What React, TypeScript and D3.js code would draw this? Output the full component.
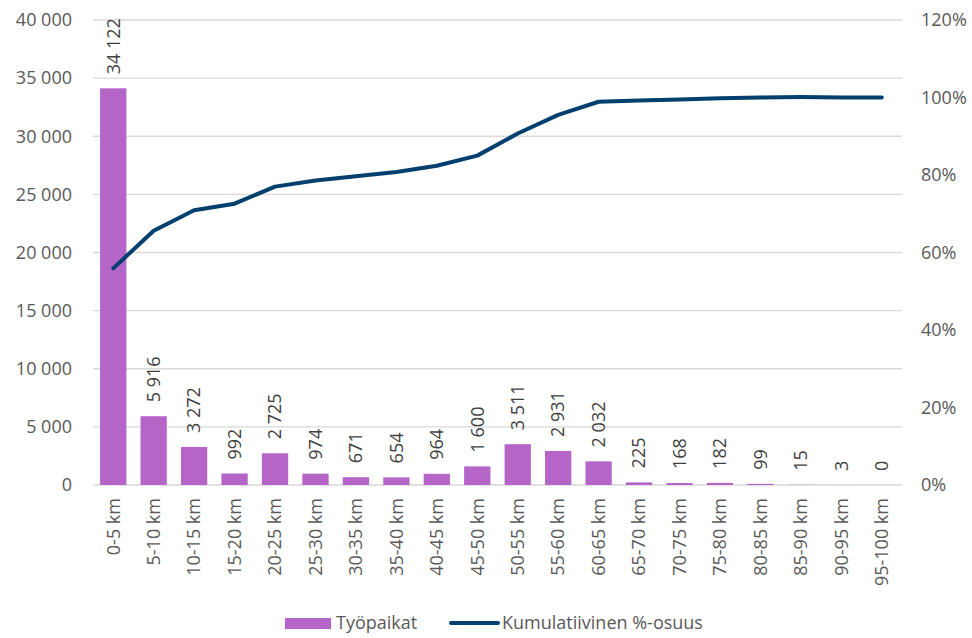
import React, { useEffect, useRef } from "react";
import * as d3 from "d3";

const categories = [
  "0-5 km", "5-10 km", "10-15 km", "15-20 km", "20-25 km", "25-30 km", "30-35 km",
  "35-40 km", "40-45 km", "45-50 km", "50-55 km", "55-60 km", "60-65 km", "65-70 km",
  "70-75 km", "75-80 km", "80-85 km", "85-90 km", "90-95 km", "95-100 km",
];
const jobs = [34122, 5916, 3272, 992, 2725, 974, 671, 654, 964, 1600, 3511, 2931, 2032, 225, 168, 182, 99, 15, 3, 0];
const cumulative = [55.9, 65.6, 70.9, 72.6, 77.0, 78.6, 79.7, 80.8, 82.4, 85.0, 90.7, 95.5, 98.9, 99.2, 99.5, 99.8, 100.0, 100.1, 100.0, 100.0];
const leftTicks = [0, 5000, 10000, 15000, 20000, 25000, 30000, 35000, 40000];
const rightTicks = [0, 20, 40, 60, 80, 100, 120];

const FONT = "'Open Sans', sans-serif";
const TEXT = "#595959";
const FS = 18;

const App = () => {
  const ref = useRef<SVGSVGElement>(null);

  useEffect(() => {
    const svg = d3.select(ref.current);
    svg.selectAll("*").remove();
    const width = 972;
    const height = 638;
    const left = 93, right = 902, top = 20, bottom = 485;

    const x = d3.scaleBand().domain(categories).range([left, right]).paddingInner(0.35).paddingOuter(0.175);
    const y = d3.scaleLinear().domain([0, 40000]).range([bottom, top]);
    const y2 = d3.scaleLinear().domain([0, 120]).range([bottom, top]);
    const fmt = (v: number) => d3.format(",")(v).replace(/,/g, " ");

    svg.attr("width", width).attr("height", height).style("font-family", FONT);

    // gridlines
    svg.append("g").selectAll("line").data(leftTicks).enter().append("line")
      .attr("x1", left).attr("x2", right)
      .attr("y1", (d) => y(d)).attr("y2", (d) => y(d))
      .attr("stroke", "#d9d9d9").attr("stroke-width", 1.3);

    // left axis labels
    svg.append("g").selectAll("text").data(leftTicks).enter().append("text")
      .attr("x", 72).attr("y", (d) => y(d)).attr("dy", "0.35em")
      .attr("text-anchor", "end").attr("fill", TEXT).attr("font-size", FS)
      .text((d) => fmt(d));

    // right axis labels
    svg.append("g").selectAll("text").data(rightTicks).enter().append("text")
      .attr("x", 921).attr("y", (d) => y2(d)).attr("dy", "0.35em")
      .attr("text-anchor", "start").attr("fill", TEXT).attr("font-size", FS)
      .text((d) => d + "%");

    // bars
    svg.append("g").selectAll("rect").data(jobs).enter().append("rect")
      .attr("x", (_, i) => x(categories[i])!)
      .attr("width", x.bandwidth())
      .attr("y", (d) => y(d))
      .attr("height", (d) => bottom - y(d))
      .attr("fill", "#b565c8");

    // bar value labels
    svg.append("g").selectAll("text").data(jobs).enter().append("text")
      .attr("transform", (d, i) => `translate(${x(categories[i])! + x.bandwidth() / 2},${y(d) - 14}) rotate(-90)`)
      .attr("dy", "0.35em").attr("text-anchor", "start")
      .attr("fill", "#404040").attr("font-size", FS)
      .text((d) => fmt(d));

    // category labels
    svg.append("g").selectAll("text").data(categories).enter().append("text")
      .attr("transform", (d) => `translate(${x(d)! + x.bandwidth() / 2},${bottom + 13}) rotate(-90)`)
      .attr("dy", "0.35em").attr("text-anchor", "end")
      .attr("fill", TEXT).attr("font-size", FS)
      .text((d) => d);

    // cumulative line
    const line = d3.line<number>()
      .x((_, i) => x(categories[i])! + x.bandwidth() / 2)
      .y((d) => y2(d));
    svg.append("path").datum(cumulative)
      .attr("d", line)
      .attr("fill", "none").attr("stroke", "#003f6e").attr("stroke-width", 4)
      .attr("stroke-linecap", "round").attr("stroke-linejoin", "round");

    // legend
    const lg = svg.append("g").attr("transform", "translate(0,623)");
    lg.append("rect").attr("x", 285).attr("y", -5).attr("width", 46).attr("height", 11).attr("fill", "#b565c8");
    lg.append("text").attr("x", 336).attr("dy", "0.35em").attr("fill", TEXT).attr("font-size", FS).text("Työpaikat");
    lg.append("line").attr("x1", 451).attr("x2", 498).attr("stroke", "#003f6e").attr("stroke-width", 4).attr("stroke-linecap", "round");
    lg.append("text").attr("x", 502).attr("dy", "0.35em").attr("fill", TEXT).attr("font-size", FS).text("Kumulatiivinen %-osuus");
  }, []);

  return <svg ref={ref} width={972} height={638} style={{ position: "absolute", left: 0, top: 0 }}></svg>;
};

export default App;
